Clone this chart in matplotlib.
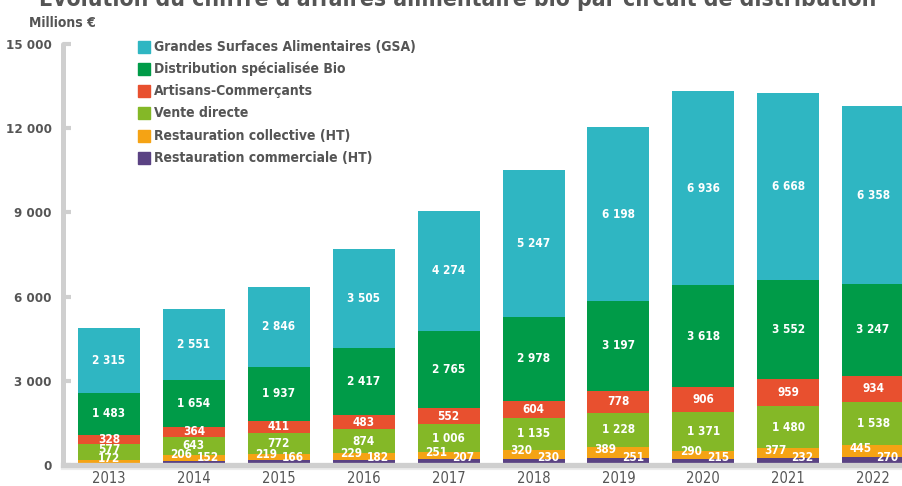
import matplotlib.pyplot as plt
import numpy as np
from matplotlib.patches import Rectangle

plt.rcParams['font.family'] = ['DejaVu Sans']
plt.rcParams['font.stretch'] = 'condensed'

years = ['2013', '2014', '2015', '2016', '2017', '2018', '2019', '2020', '2021', '2022']
commerciale = [0, 152, 166, 182, 207, 230, 251, 215, 232, 270]
collective = [172, 206, 219, 229, 251, 320, 389, 290, 377, 445]
vente_directe = [577, 643, 772, 874, 1006, 1135, 1228, 1371, 1480, 1538]
artisans = [328, 364, 411, 483, 552, 604, 778, 906, 959, 934]
specialisee = [1483, 1654, 1937, 2417, 2765, 2978, 3197, 3618, 3552, 3247]
gsa = [2315, 2551, 2846, 3505, 4274, 5247, 6198, 6936, 6668, 6358]

series_names = ['Restauration commerciale (HT)', 'Restauration collective (HT)',
                'Vente directe', 'Artisans-Commerçants',
                'Distribution spécialisée Bio', 'Grandes Surfaces Alimentaires (GSA)']
colors = ['#5a4283', '#f5a314', '#84b827', '#e8502f', '#009b48', '#2fb6c2']
series = [commerciale, collective, vente_directe, artisans, specialisee, gsa]

yticks = [0, 3000, 6000, 9000, 12000, 15000]

grey_txt = '#555555'
axis_grey = '#cfcfcf'

W, H = 903, 486
fig = plt.figure(figsize=(W / 100, H / 100), dpi=100)

def fx(px):
    return px / W

def fy(py):
    return 1 - py / H

# y=0 sits at 465 px, y=15000 at 44 px
ax = fig.add_axes([fx(63), fy(465), 1 - fx(63), fy(44) - fy(465)])
x = np.arange(len(years))
width = 0.73

bottom = np.zeros(len(years))
for vals, col in zip(series, colors):
    ax.bar(x, vals, width, bottom=bottom, color=col, zorder=2)
    bottom += np.array(vals)

def fmt(v):
    return f'{v:,}'.replace(',', ' ')

lbl = dict(color='white', fontsize=8.5, fontweight='bold', ha='center', va='center', zorder=6)
bottom = np.zeros(len(years))
for k, vals in enumerate(series):
    for i, v in enumerate(vals):
        if v == 0:
            continue
        cy = bottom[i] + v / 2
        cx = x[i]
        if k == 0:
            # small bottom segment: label pushed right
            cx += 0.17
            cy = max(cy, 250)
        elif k == 1:
            if commerciale[i] > 0:
                cx -= 0.15
                cy += 110
            else:
                cy = max(cy, 230)
        elif k == 2 and commerciale[i] == 0:
            cy += 80
        ax.text(cx, cy, fmt(v), **lbl)
    bottom += np.array(vals)

ax.set_xlim(-0.542, 9.352)
ax.set_ylim(0, 15000)
for s in ['top', 'right', 'bottom', 'left']:
    ax.spines[s].set_visible(False)

# left axis bar and baseline
ax.plot([-0.542, -0.542], [0, 15000], color=axis_grey, lw=3.6,
        solid_capstyle='round', clip_on=False, zorder=5)
ax.plot([-0.542, 9.352], [-90, -90], color='#ececec', lw=3, clip_on=False, zorder=4)
ax.plot([-0.542, 9.352], [15, 15], color=axis_grey, lw=3.8, clip_on=False, zorder=5)

ax.set_yticks(yticks)
ax.set_yticklabels([fmt(t) for t in yticks], fontsize=9.5, fontweight='bold', color=grey_txt)
ax.tick_params(axis='y', direction='in', length=6, width=3, color=axis_grey, pad=8)
ax.set_xticks(x)
ax.set_xticklabels(years, fontsize=10.5, color=grey_txt)
ax.tick_params(axis='x', length=0, pad=4)

fig.text(fx(458), fy(6), "Évolution du chiffre d'affaires alimentaire bio par circuit de distribution",
         ha='center', va='baseline', fontsize=16.5, fontweight='bold', color=grey_txt)
fig.text(fx(29), fy(23), 'Millions €', ha='left', va='center',
         fontsize=10, fontweight='bold', color=grey_txt)

# legend, top entry first
rows = [47, 69, 91, 113, 136, 158]
for py, name, col in zip(rows, series_names[::-1], colors[::-1]):
    fig.add_artist(Rectangle((fx(138), fy(py + 6)), fx(12), fy(py - 6) - fy(py + 6),
                             color=col, transform=fig.transFigure))
    fig.text(fx(154), fy(py), name, ha='left', va='center',
             fontsize=10, fontweight='bold', color=grey_txt)

fig.savefig('out.png', dpi=100)
